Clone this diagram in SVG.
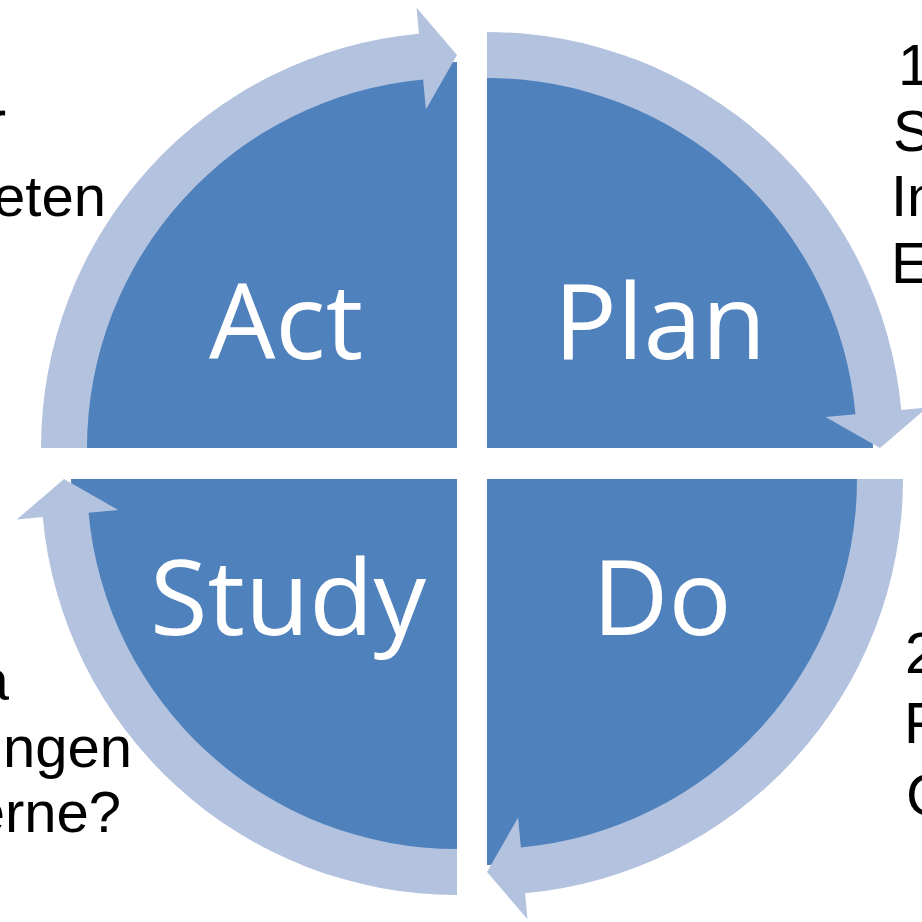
<svg xmlns="http://www.w3.org/2000/svg" width="922" height="922" viewBox="0 0 922 922">
  <style>
    .sector { fill: #4F81BD; }
    .arrow { fill: #B3C2DE; }
    .label { fill: #FFFFFF; font-family: "Open Sans", "Noto Sans", "DejaVu Sans", sans-serif; font-size: 105px; text-anchor: middle; }
    .side { fill: #000000; font-family: "Liberation Sans", Arial, sans-serif; font-size: 58px; }
    .end { text-anchor: end; }
  </style>
  <rect width="922" height="922" fill="#FFFFFF"/>

  <g id="side-text">
    <text class="side end" x="6" y="141">r</text>
    <text class="side end" x="106" y="216">eten</text>
    <text class="side end" x="9" y="700">a</text>
    <text class="side end" x="132" y="767">ngen</text>
    <text class="side end" x="121" y="832">erne?</text>
    <text class="side" x="898" y="85">1</text>
    <text class="side" x="893" y="151">S</text>
    <text class="side" x="891" y="216">In</text>
    <text class="side" x="891" y="283">E</text>
    <text class="side" x="905" y="673">2</text>
    <text class="side" x="904" y="743">F</text>
    <text class="side" x="906" y="815">C</text>
  </g>

  <g id="node-act">
    <path class="sector" d="M457,448 L71,448 A386,386 0 0 1 457,62 Z"/>
    <text class="label" x="286" y="359">Act</text>
  </g>
  <g id="node-plan">
    <path class="sector" d="M487,448 L487,62 A386,386 0 0 1 873,448 Z"/>
    <text class="label" x="660" y="359">Plan</text>
  </g>
  <g id="node-do">
    <path class="sector" d="M487,479 L873,479 A386,386 0 0 1 487,865 Z"/>
    <text class="label" x="662" y="635">Do</text>
  </g>
  <g id="node-study">
    <path class="sector" d="M457,479 L457,865 A386,386 0 0 1 71,479 Z"/>
    <text class="label" x="288" y="635">Study</text>
  </g>

  <g id="connectors">
    <path id="arrow-act-plan" class="arrow" d="M41,448 A416,416 0 0 1 418.94,33.75 L416.56,7.86 L457,55 L425.89,109.43 L423.14,79.55 A370,370 0 0 0 87,448 Z"/>
    <path id="arrow-plan-do" class="arrow" d="M487,32 A416,416 0 0 1 901.25,409.94 L927.14,407.56 L880,448 L825.57,416.89 L855.45,414.14 A370,370 0 0 0 487,78 Z"/>
    <path id="arrow-do-study" class="arrow" d="M903,479 A416,416 0 0 1 525.06,893.25 L527.44,919.14 L487,872 L518.11,817.57 L520.86,847.45 A370,370 0 0 0 857,479 Z"/>
    <path id="arrow-study-act" class="arrow" d="M457,895 A416,416 0 0 1 42.75,517.06 L16.86,519.44 L64,479 L118.43,510.11 L88.55,512.86 A370,370 0 0 0 457,849 Z"/>
  </g>
</svg>
